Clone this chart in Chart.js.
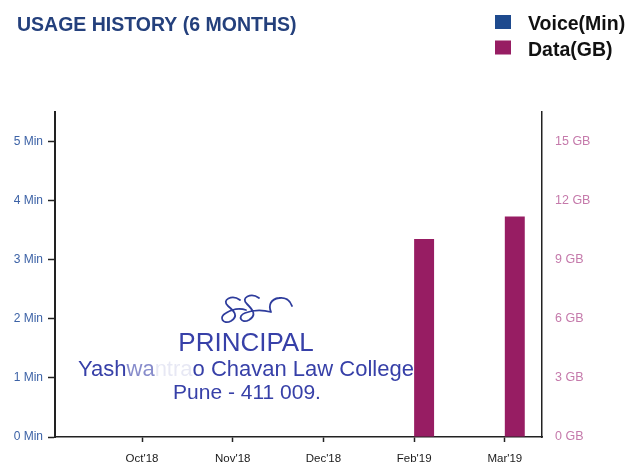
<!DOCTYPE html>
<html>
<head>
<meta charset="utf-8">
<title>Usage history</title>
<script src="https://cdn.jsdelivr.net/npm/chart.js@4.4.1/dist/chart.umd.min.js"></script>
<style>
  html, body { margin: 0; padding: 0; background: #fff; }
  #usage { display: block; }
</style>
</head>
<body>
<canvas id="usage" width="632" height="464"></canvas>
<script>
const months = ["Oct'18", "Nov'18", "Dec'18", "Feb'19", "Mar'19"];
const voiceMin = [0, 0, 0, 0, 0];
const dataGB = [0, 0, 0, 10.05, 11.2];
const minTicks = [0, 1, 2, 3, 4, 5];
const gbTicks = [0, 3, 6, 9, 12, 15];

const FONT = '"Liberation Sans", Arial, Helvetica, sans-serif';

// months sit on a numeric axis at 1..n so the first one is not flush with the y axis
const toPoints = arr => arr.map((v, i) => ({ x: i + 1, y: v }));
const fixTicks = list => axis => { axis.ticks = list.map(v => ({ value: v })); };

// title, legend and the college stamp on top of the plot
const headerAndStamp = {
    id: 'headerAndStamp',
    afterDraw(chart) {
        const ctx = chart.ctx;
        ctx.save();
        ctx.textBaseline = 'alphabetic';

        ctx.fillStyle = '#24407c';
        ctx.font = 'bold 19.5px ' + FONT;
        ctx.fillText('USAGE HISTORY (6 MONTHS)', 17, 31);

        chart.data.datasets.forEach((ds, i) => {
            const y = 22 + i * 25.5;
            ctx.fillStyle = ds.backgroundColor;
            ctx.fillRect(495, y - 7, 16, 14);
            ctx.fillStyle = '#111';
            ctx.font = 'bold 19.5px ' + FONT;
            ctx.fillText(ds.label, 528, y + 8);
        });

        // signature
        ctx.strokeStyle = '#2e3c9c';
        ctx.lineWidth = 1.8;
        ctx.lineCap = 'round';
        ctx.beginPath();
        ctx.moveTo(240, 300);
        ctx.bezierCurveTo(232, 294, 221, 300, 228, 306);
        ctx.bezierCurveTo(234, 311, 239, 316, 231, 321);
        ctx.bezierCurveTo(223, 325, 218, 317, 226, 313);
        ctx.bezierCurveTo(232, 309, 240, 308, 246, 310);
        ctx.moveTo(259, 298);
        ctx.bezierCurveTo(251, 292, 240, 298, 247, 304);
        ctx.bezierCurveTo(253, 310, 257, 315, 249, 320);
        ctx.bezierCurveTo(241, 324, 237, 316, 245, 313);
        ctx.bezierCurveTo(253, 310, 263, 310, 271, 312);
        ctx.moveTo(271, 312);
        ctx.bezierCurveTo(268, 305, 271, 299, 279, 298);
        ctx.bezierCurveTo(285, 297, 290, 300, 292, 306);
        ctx.stroke();

        ctx.fillStyle = '#3740a8';
        ctx.textAlign = 'center';
        ctx.font = '26px ' + FONT;
        ctx.fillText('PRINCIPAL', 246, 351);
        ctx.font = '21px ' + FONT;
        ctx.fillText('Pune - 411 009.', 247, 399);

        // second line has worn-out ink in the middle of the first word
        ctx.textAlign = 'left';
        ctx.font = '22px ' + FONT;
        const parts = [['Yash', 1], ['wa', 0.6], ['ntra', 0.12], ['o Chavan Law College', 1]];
        let x = 78;
        parts.forEach(([txt, a]) => {
            ctx.globalAlpha = a;
            ctx.fillText(txt, x, 376);
            x += ctx.measureText(txt).width;
        });
        ctx.restore();
    }
};

new Chart(document.getElementById('usage'), {
    type: 'bar',
    data: {
        datasets: [
            {
                label: 'Voice(Min)',
                data: toPoints(voiceMin),
                backgroundColor: '#1e4a8e',
                yAxisID: 'y'
            },
            {
                label: 'Data(GB)',
                data: toPoints(dataGB),
                backgroundColor: '#971d63',
                yAxisID: 'y2'
            }
        ]
    },
    options: {
        responsive: false,
        animation: false,
        devicePixelRatio: 1,
        categoryPercentage: 0.44,
        barPercentage: 1,
        layout: { padding: { top: 112, left: 0, right: 0, bottom: 0 } },
        plugins: {
            legend: { display: false },
            title: { display: false },
            tooltip: { enabled: false }
        },
        scales: {
            x: {
                type: 'linear',
                position: 'bottom',
                min: 0.04,
                max: 5.41,
                offset: false,
                afterBuildTicks: fixTicks(months.map((m, i) => i + 1)),
                afterFit: s => { s.height = 27; },
                ticks: {
                    callback: v => months[v - 1],
                    color: '#1a1a1a',
                    font: { family: FONT, size: 11.5 },
                    padding: 10,
                    maxRotation: 0,
                    autoSkip: false
                },
                grid: { offset: false, drawOnChartArea: false, tickLength: 5, color: '#222', tickWidth: 1.5 },
                border: { color: '#222', width: 1.5 }
            },
            y: {
                position: 'left',
                min: 0,
                max: 5.5,
                afterBuildTicks: fixTicks(minTicks),
                afterFit: s => { s.width = 55; },
                ticks: {
                    callback: v => v + ' Min',
                    color: '#3c62a6',
                    font: { family: FONT, size: 12 },
                    padding: 5
                },
                grid: { drawOnChartArea: false, tickLength: 7, color: '#222', tickWidth: 1.5 },
                border: { color: '#222', width: 2 }
            },
            y2: {
                position: 'right',
                min: 0,
                max: 16.5,
                afterBuildTicks: fixTicks(gbTicks),
                afterFit: s => { s.width = 90; },
                ticks: {
                    callback: v => v + ' GB',
                    color: '#c57aab',
                    font: { family: FONT, size: 12.5 },
                    padding: 13
                },
                grid: { drawOnChartArea: false, drawTicks: false },
                border: { color: '#222', width: 1.5 }
            }
        }
    },
    plugins: [headerAndStamp]
});
</script>
</body>
</html>
